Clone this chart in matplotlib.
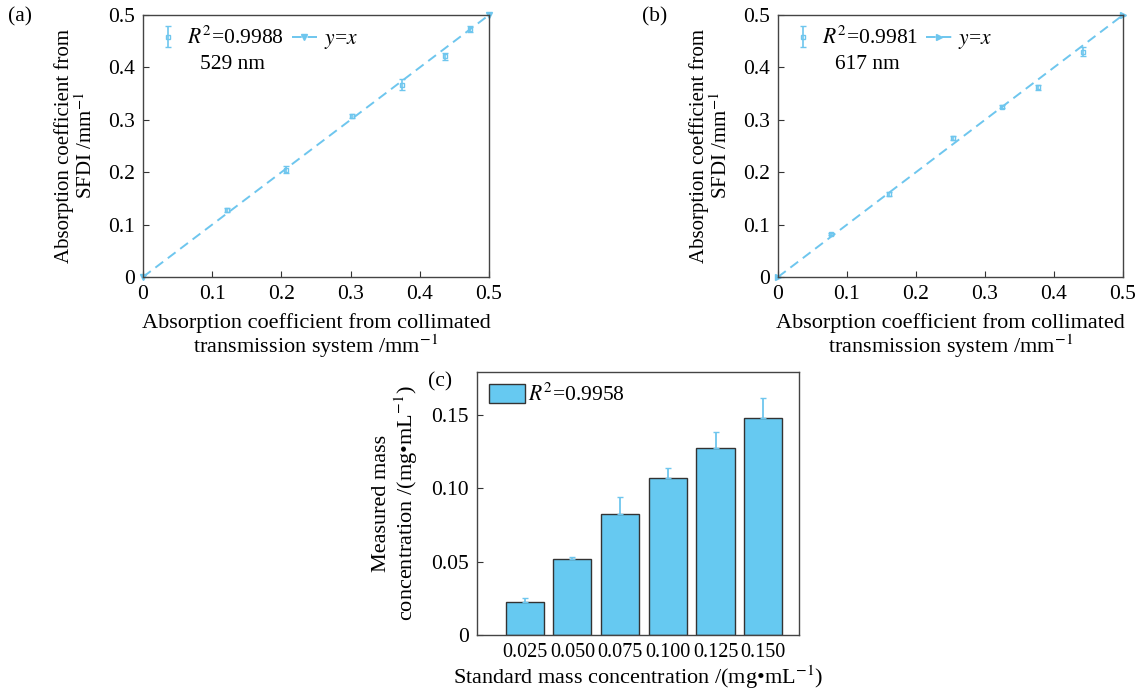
import matplotlib
matplotlib.use("Agg")
import matplotlib.pyplot as plt
import numpy as np

plt.rcParams['font.family'] = ['Liberation Serif', 'DejaVu Serif']
plt.rcParams['mathtext.fontset'] = 'stix'

# Panel (a) 529 nm
a_x = [0.122, 0.206, 0.302, 0.374, 0.436, 0.472]
a_y = [0.128, 0.205, 0.308, 0.367, 0.421, 0.473]
a_err = [0.003, 0.006, 0.004, 0.010, 0.007, 0.006]
a_r2 = "0.9988"
a_wl = "529 nm"

# Panel (b) 617 nm
b_x = [0.077, 0.161, 0.254, 0.324, 0.377, 0.442]
b_y = [0.082, 0.159, 0.265, 0.325, 0.362, 0.430]
b_err = [0.002, 0.004, 0.004, 0.003, 0.005, 0.008]
b_r2 = "0.9981"
b_wl = "617 nm"

# Panel (c)
c_labels = ["0.025", "0.050", "0.075", "0.100", "0.125", "0.150"]
c_vals = [0.0223, 0.0514, 0.0826, 0.1066, 0.1276, 0.1477]
c_err = [0.0030, 0.0018, 0.0113, 0.0068, 0.0108, 0.0135]
c_r2 = "0.9958"

line_ends = [0, 0.5]

W, H = 1142, 689
fig = plt.figure(figsize=(W / 100, H / 100), dpi=100)

def px_axes(l, r, t, b):
    return fig.add_axes([l / W, (H - b) / H, (r - l) / W, (b - t) / H])

blue = '#6ec6ee'
fs_tick = 15.5
fs_lab = 16

def style_spines(ax):
    for s in ax.spines.values():
        s.set_color('#444444')
        s.set_linewidth(1.0)

def scatter_panel(ax, xs, ys, errs, r2, wl, tri):
    h1 = ax.errorbar(xs, ys, yerr=errs, fmt='s', ms=3, color=blue, ecolor=blue,
                     elinewidth=1.2, capsize=2.5, mfc='none', mew=1,
                     label="$R^2$=" + r2)
    h2, = ax.plot(line_ends, line_ends, color=blue, lw=1.4, marker=tri,
                  ms=5, label="$y$=$x$", clip_on=False, dashes=(5, 3))
    ax.set_xlim(0, 0.5)
    ax.set_ylim(0, 0.5)
    ticks = [0, 0.1, 0.2, 0.3, 0.4, 0.5]
    tl = ["0", "0.1", "0.2", "0.3", "0.4", "0.5"]
    ax.set_xticks(ticks, tl)
    ax.set_yticks(ticks, tl)
    ax.tick_params(direction='in', length=4, labelsize=fs_tick, pad=6, color='#333333')
    style_spines(ax)
    ax.legend([h1, h2], [h1.get_label(), h2.get_label()], loc='upper left',
              ncol=2, frameon=False, fontsize=fs_tick, handlelength=1.2,
              handletextpad=0.3, columnspacing=0.35, borderaxespad=0.15)
    ax.text(0.165, 0.81, wl, transform=ax.transAxes, fontsize=fs_tick, va='center')
    ax.set_xlabel("Absorption coefficient from collimated\ntransmission system /mm$^{-1}$",
                  fontsize=fs_lab, labelpad=6, linespacing=1.0)
    ax.set_ylabel("Absorption coefficient from\nSFDI /mm$^{-1}$", fontsize=15,
                  labelpad=8, linespacing=1.05)

ax1 = px_axes(143, 489, 15, 277)
scatter_panel(ax1, a_x, a_y, a_err, a_r2, a_wl, 'v')
fig.text(8 / W, 1 - 17 / H, "(a)", fontsize=fs_tick, va='center', ha='left')

ax2 = px_axes(778, 1123, 15, 277)
scatter_panel(ax2, b_x, b_y, b_err, b_r2, b_wl, '>')
fig.text(642 / W, 1 - 17 / H, "(b)", fontsize=fs_tick, va='center', ha='left')

ax3 = px_axes(477, 799, 372, 635)
pos = np.arange(len(c_vals))
ax3.bar(pos, c_vals, width=0.8, color='#66c9f1', edgecolor='#333333', lw=1.0,
        label="$R^2$=" + c_r2, zorder=2)
ax3.errorbar(pos, c_vals, yerr=[np.zeros(len(c_err)), c_err], fmt='none',
             ecolor=blue, elinewidth=1.3, capsize=2, zorder=3)
ax3.set_xlim(-1.0, 5.75)
ax3.set_ylim(0, 0.179)
ax3.set_xticks(pos, c_labels)
ax3.set_yticks([0, 0.05, 0.10, 0.15], ["0", "0.05", "0.10", "0.15"])
ax3.tick_params(axis='x', length=0, labelsize=14.5, pad=6)
ax3.tick_params(axis='y', direction='in', length=4, labelsize=fs_tick, pad=6, color='#333333')
style_spines(ax3)
ax3.legend(loc='upper left', frameon=False, fontsize=fs_tick, handlelength=1.7,
           handleheight=1.0, handletextpad=0.1, borderaxespad=0.15)
ax3.set_xlabel("Standard mass concentration /(mg\u2022mL$^{-1}$)", fontsize=fs_lab,
               labelpad=1)
ax3.set_ylabel("Measured mass\nconcentration /(mg\u2022mL$^{-1}$)", fontsize=fs_lab,
               labelpad=8, linespacing=1.05)
fig.text(428 / W, 1 - 382 / H, "(c)", fontsize=fs_tick, va='center', ha='left')

fig.savefig("out.png", dpi=100)
